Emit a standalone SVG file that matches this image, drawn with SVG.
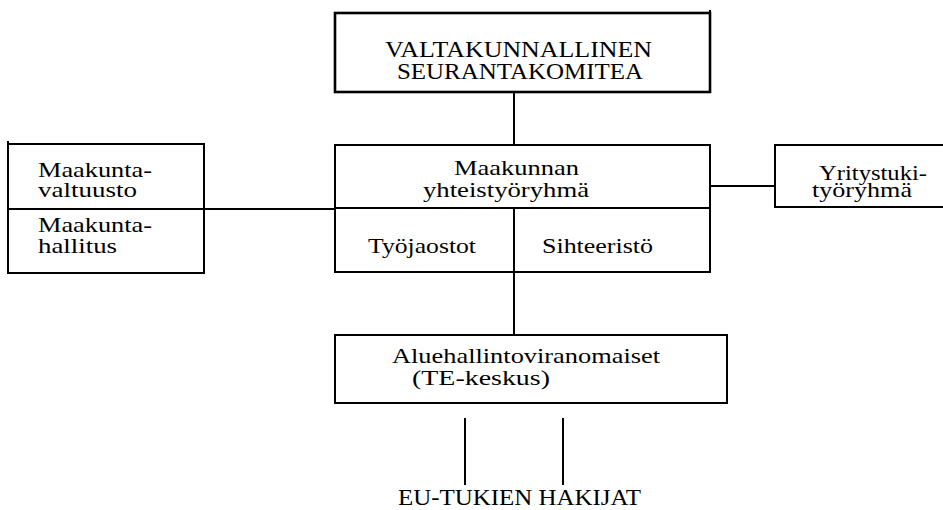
<svg xmlns="http://www.w3.org/2000/svg" width="943" height="510" viewBox="0 0 943 510">
<style>
.box{fill:none;stroke:#000;stroke-width:2}
.thick{stroke-width:2.6}
.ln{stroke:#000;stroke-width:2;fill:none}
text{font-family:"Liberation Serif","Times New Roman",serif;font-size:22px;fill:#000}
.caps{font-size:23px}
</style>
<rect x="0" y="0" width="943" height="510" fill="#fff"/>
<g id="connectors">
<line class="ln" x1="514" y1="92" x2="514" y2="145"/>
<line class="ln" x1="514" y1="272" x2="514" y2="335"/>
<line class="ln" x1="204" y1="209" x2="335" y2="209"/>
<line class="ln" x1="710" y1="186" x2="775" y2="186"/>
<line class="ln" x1="465" y1="418" x2="465" y2="485"/>
<line class="ln" x1="563" y1="418" x2="563" y2="485"/>
</g>
<g id="valtakunnallinen">
<rect class="box thick" x="335" y="13" width="375" height="79"/>
<line class="ln" x1="710" y1="10" x2="710" y2="13"/>
<text class="caps" x="385" y="57" textLength="267" lengthAdjust="spacingAndGlyphs">VALTAKUNNALLINEN</text>
<text class="caps" x="397" y="79" textLength="246" lengthAdjust="spacingAndGlyphs">SEURANTAKOMITEA</text>
</g>
<g id="maakunnan">
<rect class="box" x="335" y="145" width="375" height="127"/>
<line class="ln" x1="335" y1="208" x2="710" y2="208"/>
<line class="ln" x1="514" y1="208" x2="514" y2="272"/>
<text x="454" y="175" textLength="125" lengthAdjust="spacingAndGlyphs">Maakunnan</text>
<text x="423" y="197" textLength="166" lengthAdjust="spacingAndGlyphs">yhteistyöryhmä</text>
<text x="368" y="253" textLength="108" lengthAdjust="spacingAndGlyphs">Työjaostot</text>
<text x="542" y="253" textLength="111" lengthAdjust="spacingAndGlyphs">Sihteeristö</text>
</g>
<g id="maakunta">
<rect class="box" x="8" y="144" width="196" height="129"/>
<line class="ln" x1="8" y1="141" x2="8" y2="144"/>
<line class="ln" x1="8" y1="209" x2="204" y2="209"/>
<text x="38" y="177" textLength="114" lengthAdjust="spacingAndGlyphs">Maakunta-</text>
<text x="38" y="197" textLength="99" lengthAdjust="spacingAndGlyphs">valtuusto</text>
<text x="38" y="232" textLength="114" lengthAdjust="spacingAndGlyphs">Maakunta-</text>
<text x="38" y="253" textLength="79" lengthAdjust="spacingAndGlyphs">hallitus</text>
</g>
<g id="yritystuki">
<path class="box" d="M950 145 H775 V207 H950"/>
<text x="819" y="180" textLength="108" lengthAdjust="spacingAndGlyphs">Yritystuki-</text>
<text x="812" y="197" textLength="100" lengthAdjust="spacingAndGlyphs">työryhmä</text>
</g>
<g id="aluehallinto">
<rect class="box" x="335" y="335" width="392" height="68"/>
<text x="392" y="363" textLength="268" lengthAdjust="spacingAndGlyphs">Aluehallintoviranomaiset</text>
<text x="412" y="385" textLength="138" lengthAdjust="spacingAndGlyphs">(TE-keskus)</text>
</g>
<g id="hakijat">
<text class="caps" x="398" y="505" textLength="243" lengthAdjust="spacingAndGlyphs">EU-TUKIEN HAKIJAT</text>
</g>
</svg>
